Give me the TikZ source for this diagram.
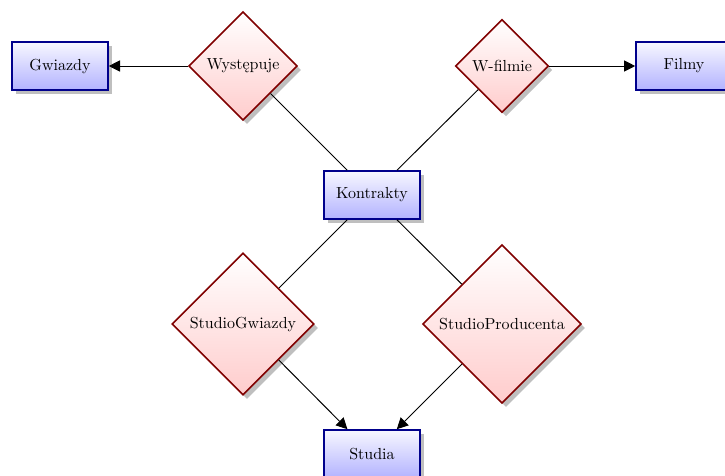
\documentclass[tikz,border=0pt]{standalone}
\usepackage{fontspec}
\usetikzlibrary{shapes.geometric,shadows,arrows.meta}
\begin{document}
\begin{tikzpicture}[x=0.625pt,y=-0.625pt,
  entity/.style={rectangle, draw=blue!55!black, line width=1pt,
    top color=blue!3, bottom color=blue!30,
    minimum width=60pt, minimum height=30pt,
    drop shadow={shadow xshift=2.5pt, shadow yshift=-2.5pt}},
  relation/.style={diamond, aspect=1, draw=red!50!black, line width=1pt,
    top color=white, bottom color=red!20,
    drop shadow={shadow xshift=2.5pt, shadow yshift=-2.5pt}},
  link/.style={semithick},
  arrow/.style={semithick, -{Triangle[length=7pt,width=7pt]}}
]
\clip (0,0) rectangle (725,475);

% entities
\node[entity] (gwiazdy)   at (60,66)   {Gwiazdy};
\node[entity] (kontrakty) at (372,195) {Kontrakty};
\node[entity] (filmy)     at (684,66)  {Filmy};
\node[entity] (studia)    at (372,454) {Studia};

% relationships
\node[relation] (wystepuje) at (243,66)  {Występuje};
\node[relation] (wfilmie)   at (502,66)  {W-filmie};
\node[relation] (sgw)       at (243,324) {StudioGwiazdy};
\node[relation] (spr)       at (502,324) {StudioProducenta};

% connectors
\draw[link] (wystepuje) -- (kontrakty);
\draw[link] (wfilmie) -- (kontrakty);
\draw[link] (sgw) -- (kontrakty);
\draw[link] (spr) -- (kontrakty);
\draw[arrow] (wystepuje) -- (gwiazdy);
\draw[arrow] (wfilmie) -- (filmy);
\draw[arrow] (sgw) -- (studia);
\draw[arrow] (spr) -- (studia);
\end{tikzpicture}
\end{document}
